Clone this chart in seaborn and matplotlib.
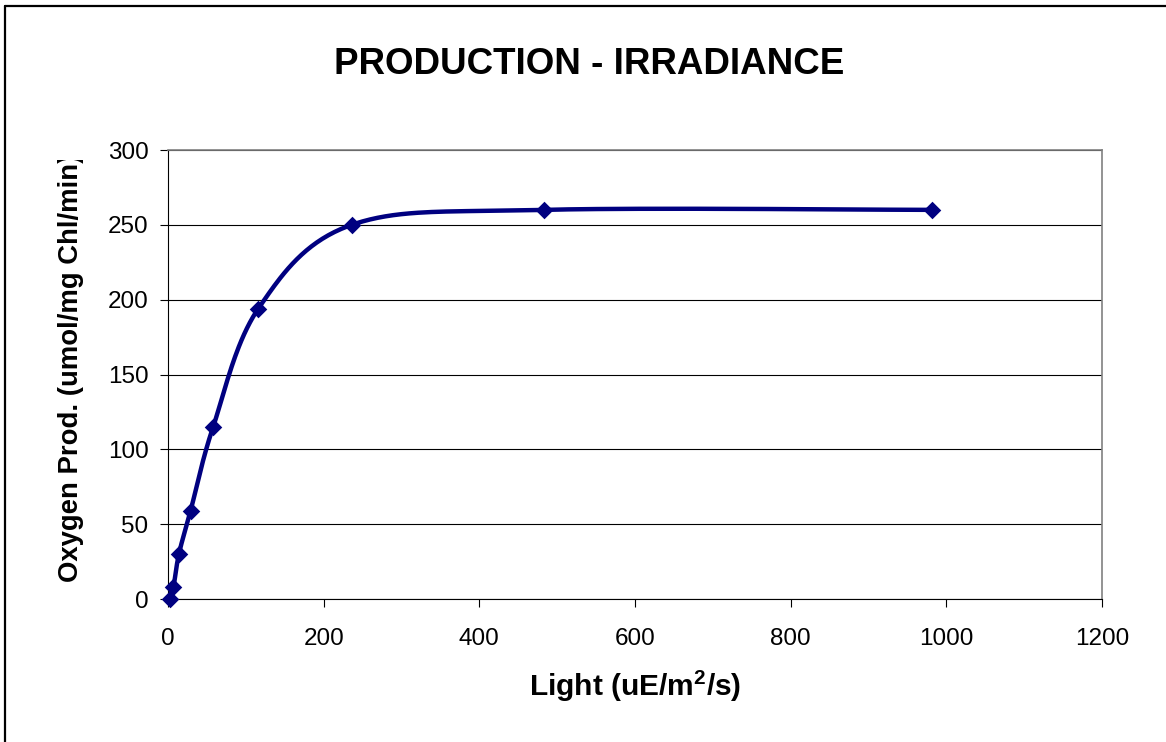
import numpy as np
import pandas as pd
import matplotlib
matplotlib.use("Agg")
import matplotlib.pyplot as plt
import seaborn as sns
from matplotlib.lines import Line2D
from matplotlib.transforms import Bbox, TransformedBbox

light = [2, 7, 14, 29, 58, 116, 236, 483, 982]
oxygen = [0, 8, 30, 59, 115, 194, 250, 260, 260]
x_ticks = [0, 200, 400, 600, 800, 1000, 1200]
y_ticks = [0, 50, 100, 150, 200, 250, 300]
title = "PRODUCTION - IRRADIANCE"
x_label = r"Light (uE/m$^\mathbf{2}$/s)"
y_label = "Oxygen Prod. (umol/mg Chl/min)"

sns.set_theme(style="white")
plt.rcParams['font.family'] = ['Liberation Sans', 'DejaVu Sans']
plt.rcParams['mathtext.fontset'] = 'custom'
plt.rcParams['mathtext.rm'] = 'Liberation Sans:bold'
plt.rcParams['mathtext.bf'] = 'Liberation Sans:bold'
plt.rcParams['text.color'] = 'black'
plt.rcParams['axes.labelcolor'] = 'black'
plt.rcParams['xtick.color'] = 'black'
plt.rcParams['ytick.color'] = 'black'


def smooth_curve(xs, ys, n=40):
    """Excel-style smoothed line (uniform Catmull-Rom Bezier segments)."""
    p = np.column_stack([xs, ys]).astype(float)
    ext = np.vstack([p[0], p, p[-1]])
    out = []
    t = np.linspace(0, 1, n)[:, None]
    for i in range(len(p) - 1):
        p0, p1, p2, p3 = ext[i], ext[i + 1], ext[i + 2], ext[i + 3]
        c1 = p1 + (p2 - p0) / 6.0
        c2 = p2 - (p3 - p1) / 6.0
        seg = ((1 - t) ** 3) * p1 + 3 * ((1 - t) ** 2) * t * c1 + 3 * (1 - t) * t ** 2 * c2 + t ** 3 * p2
        out.append(seg if i == 0 else seg[1:])
    c = np.vstack(out)
    return c[:, 0], c[:, 1]


W, H = 1166, 742
fig = plt.figure(figsize=(W / 100, H / 100), dpi=100)
L, R, T, B = 168, 1102, 150, 599
ax = fig.add_axes([L / W, 1 - B / H, (R - L) / W, (B - T) / H])

cx, cy = smooth_curve(light, oxygen)
curve = pd.DataFrame({"x": cx, "y": cy})
pts = pd.DataFrame({"x": light, "y": oxygen})

navy = "#000080"
sns.lineplot(data=curve, x="x", y="y", sort=False, estimator=None, ax=ax,
             color=navy, linewidth=3.2, zorder=3)
sns.scatterplot(data=pts, x="x", y="y", ax=ax, marker="D", s=80,
                color=navy, edgecolor=navy, linewidth=0, zorder=4, clip_on=False)

ax.set_xlim(0, 1200)
ax.set_ylim(0, 300)
ax.set_xticks(x_ticks)
ax.set_yticks(y_ticks)
ax.yaxis.grid(True, color="black", linewidth=0.8)
ax.set_axisbelow(True)
ax.tick_params(axis="both", direction="out", length=6, width=0.8, color="black",
               labelsize=17.5, pad=8, left=True, bottom=True, labelcolor="black")
ax.tick_params(axis="x", pad=15)
for s in ["top", "right"]:
    ax.spines[s].set_color("#808080")
    ax.spines[s].set_linewidth(1.2)
for s in ["left", "bottom"]:
    ax.spines[s].set_color("black")
    ax.spines[s].set_linewidth(0.8)

ax.set_xlabel(x_label, fontsize=21.5, fontweight="bold", labelpad=13)
ax.set_ylabel(y_label, fontsize=19.8, fontweight="bold", labelpad=17)
ylab = ax.yaxis.label
ylab.set_y(0.515)
ylab.set_clip_on(True)
clipbb = Bbox.from_extents(0, 0, 200 / W, 1 - 160 / H)
ylab.set_clip_box(TransformedBbox(clipbb, fig.transFigure))

fig.text(589 / W, 1 - 64 / H, title, ha="center", va="center",
         fontsize=26.5, fontweight="bold")

# figure frame (left and top edges visible)
fig.add_artist(Line2D([5 / W, 5 / W], [0, 1 - 6 / H], transform=fig.transFigure,
                      color="black", linewidth=1.6))
fig.add_artist(Line2D([5 / W, 1], [1 - 6 / H, 1 - 6 / H], transform=fig.transFigure,
                      color="black", linewidth=1.6))

fig.savefig("out.png", dpi=100)
